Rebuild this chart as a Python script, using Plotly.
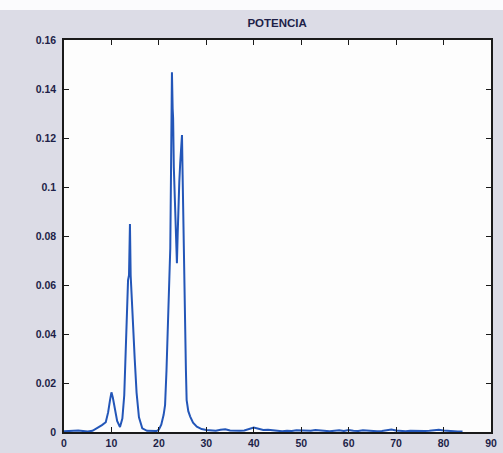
import plotly.graph_objects as go

# Power spectrum samples (frequency, power)
freq = [0, 1, 2, 3, 4, 5, 6, 7, 8, 8.8, 9.3, 9.7, 10.0, 10.3, 10.7, 11.2, 11.8,
        12.3, 12.7, 13.0, 13.3, 13.5, 13.7, 13.9, 14.05, 14.3, 14.6, 14.9, 15.3,
        15.8, 16.5, 17.5, 18.5, 19.5, 20.0, 20.5, 21.0, 21.3, 21.6, 21.9, 22.2,
        22.4, 22.55, 22.7, 22.75, 22.9, 23.0, 23.15, 23.3, 23.5, 23.7, 23.8,
        23.95, 24.1, 24.3, 24.5, 24.7, 24.87, 25.0, 25.15, 25.3, 25.5, 25.7,
        25.85, 26.2, 26.6, 27.2, 28.0, 29.0, 30, 31, 32, 33, 34, 35, 36, 37, 38,
        39, 40, 41, 42, 43, 44, 45, 46, 47, 48, 49, 50, 51, 52, 53, 54, 55, 56,
        57, 58, 59, 60, 61, 62, 63, 64, 65, 66, 67, 68, 69, 70, 71, 72, 73, 74,
        75, 76, 77, 78, 79, 80, 81, 82, 83, 84]
power = [0.0003, 0.0004, 0.0003, 0.0006, 0.0004, 0.0002, 0.0005, 0.0015, 0.0028,
         0.0040, 0.0080, 0.0130, 0.0162, 0.0140, 0.0090, 0.0045, 0.0020,
         0.0055, 0.0150, 0.0300, 0.0480, 0.0620, 0.0640, 0.0849, 0.0640, 0.0560,
         0.0420, 0.0300, 0.0160, 0.0060, 0.0015, 0.0005, 0.0003, 0.0004, 0.0010,
         0.0030, 0.0070, 0.0110, 0.0250, 0.0420, 0.0600, 0.0750, 0.1050, 0.1310,
         0.1468, 0.1320, 0.1280, 0.1080, 0.1000, 0.0900, 0.0720, 0.0689, 0.0800,
         0.0960, 0.1020, 0.1100, 0.1150, 0.1212, 0.1050, 0.0850, 0.0650, 0.0450,
         0.0250, 0.0130, 0.0085, 0.0063, 0.0038, 0.0022, 0.0012, 0.0008, 0.0006,
         0.0005, 0.0009, 0.0011, 0.0006, 0.0004, 0.0005, 0.0006, 0.0012, 0.0018,
         0.0013, 0.0008, 0.0009, 0.0006, 0.0004, 0.0003, 0.0005, 0.0004, 0.0007,
         0.0006, 0.0004, 0.0005, 0.0008, 0.0006, 0.0004, 0.0003, 0.0005, 0.0007,
         0.0004, 0.0008, 0.0005, 0.0004, 0.0007, 0.0005, 0.0004, 0.0003, 0.0004,
         0.0006, 0.0010, 0.0006, 0.0004, 0.0003, 0.0005, 0.0004, 0.0006, 0.0004,
         0.0005, 0.0007, 0.0009, 0.0006, 0.0004, 0.0003, 0.0002, 0.0002]

x_ticks = [0, 10, 20, 30, 40, 50, 60, 70, 80, 90]
y_ticks = [0, 0.02, 0.04, 0.06, 0.08, 0.1, 0.12, 0.14, 0.16]
y_tick_text = ["0", "0.02", "0.04", "0.06", "0.08", "0.1", "0.12", "0.14", "0.16"]

label_font = dict(family="Liberation Sans, Arial, sans-serif", size=10.5,
                  color="#1e1f48", weight="bold")

fig = go.Figure()
fig.add_trace(go.Scatter(x=freq, y=power, mode="lines",
                         line=dict(color="#2356b8", width=2),
                         showlegend=False, hoverinfo="skip"))

axis_common = dict(showline=True, linecolor="#1a1a1a", linewidth=1.5,
                   mirror="ticks", ticks="inside", ticklen=5, tickwidth=1,
                   tickcolor="#1a1a1a", showgrid=False, zeroline=False,
                   automargin=False, tickfont=label_font)

fig.update_layout(
    width=503, height=453,
    margin=dict(l=64, r=12, t=40, b=21),
    paper_bgcolor="#dcdce6",
    plot_bgcolor="#fdfdfd",
    title=dict(text="POTENCIA", x=0.551, xanchor="center", y=0.949,
               yanchor="middle",
               font=dict(family="Liberation Sans, Arial, sans-serif", size=11.5,
                         color="#1e1f48", weight="bold")),
    xaxis=dict(range=[0, 90], tickvals=x_ticks, ticklabelstandoff=1,
               **axis_common),
    yaxis=dict(range=[0, 0.16], tickvals=y_ticks, ticktext=y_tick_text,
               ticklabelstandoff=4, **axis_common),
    shapes=[dict(type="rect", xref="paper", yref="paper", layer="above",
                 x0=-0.2, x1=1.1, y0=1.0765, y1=1.12,
                 fillcolor="#fbfbfd", line=dict(width=0))],
)

fig.write_html("out.html")
